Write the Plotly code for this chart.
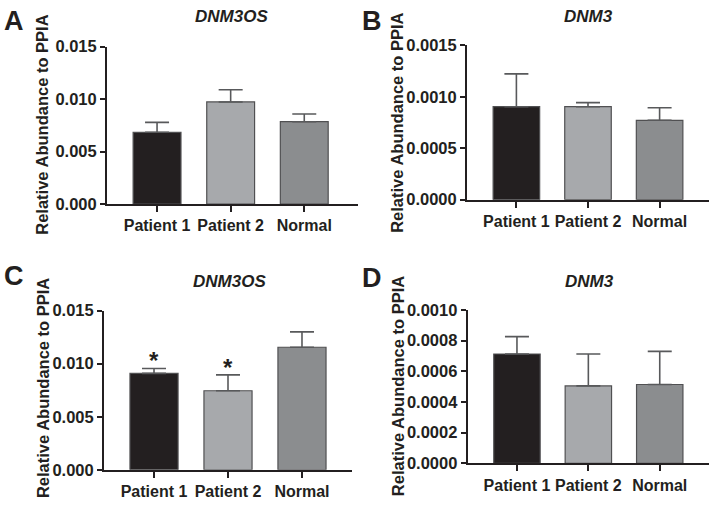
import plotly.graph_objects as go

# ---------------- data ----------------
categories = ["Patient 1", "Patient 2", "Normal"]

a_values = [0.00684, 0.00973, 0.00785]
a_errors = [0.00095, 0.00116, 0.00074]

b_values = [0.000904, 0.000904, 0.000772]
b_errors = [0.000319, 0.000040, 0.000122]

c_values = [0.00909, 0.00745, 0.01155]
c_errors = [0.00046, 0.00150, 0.00145]
c_signif = ["*", "*", ""]

d_values = [0.000713, 0.000505, 0.000514]
d_errors = [0.000113, 0.000208, 0.000216]

panel_titles = ["DNM3OS", "DNM3", "DNM3OS", "DNM3"]
panel_letters = ["A", "B", "C", "D"]
y_title = "Relative Abundance to PPIA"

a_ticks = [0, 0.005, 0.010, 0.015]
b_ticks = [0, 0.0005, 0.0010, 0.0015]
c_ticks = [0, 0.005, 0.010, 0.015]
d_ticks = [0, 0.0002, 0.0004, 0.0006, 0.0008, 0.0010]

bar_colors = ["#231f20", "#a7a9ac", "#8b8d8f"]

# ---------------- layout geometry (pixels) ----------------
W, H = 709, 509
FONT = "Liberation Sans, Arial, sans-serif"
INK = "#231f20"

panels = [
    dict(values=a_values, errors=a_errors, ticks=a_ticks, fmt="{:.3f}",
         xpx=(107, 358), ypx=(39, 202.3), xr=[-0.68, 2.73]),
    dict(values=b_values, errors=b_errors, ticks=b_ticks, fmt="{:.4f}",
         xpx=(467, 709), ypx=(37.7, 197.7), xr=[-0.69, 2.69]),
    dict(values=c_values, errors=c_errors, ticks=c_ticks, fmt="{:.3f}",
         xpx=(104, 352), ypx=(312.7, 477.7), xr=[-0.676, 2.676]),
    dict(values=d_values, errors=d_errors, ticks=d_ticks, fmt="{:.4f}",
         xpx=(467.7, 709), ypx=(312, 471), xr=[-0.69, 2.69]),
]

letter_pos = [(2, 12), (360, 12), (2, 277), (360, 279)]
title_pos = [(231, 8), (588, 8), (229, 282), (589, 282)]
ytitle_pos = [(42, 120), (397, 118), (43, 393), (398, 391)]

fig = go.Figure()
annotations = []

for i, p in enumerate(panels):
    n = "" if i == 0 else str(i + 1)
    xa, ya = "x" + n, "y" + n
    fig.add_trace(go.Bar(
        x=categories, y=p["values"],
        xaxis=xa, yaxis=ya,
        width=0.65,
        marker=dict(color=bar_colors, line=dict(color="#505052", width=1.2)),
        error_y=dict(type="data", symmetric=False, array=p["errors"],
                     arrayminus=[0] * len(p["errors"]),
                     color="#58595b", thickness=1.6, width=12),
        showlegend=False,
    ))
    xdom = [p["xpx"][0] / W, min(p["xpx"][1] / W, 1.0)]
    ydom = [1 - p["ypx"][1] / H, 1 - p["ypx"][0] / H]
    fig.update_layout(**{
        ("xaxis" + n): dict(
            domain=xdom, anchor=ya, range=p["xr"], type="category",
            showline=True, linecolor=INK, linewidth=2,
            ticks="outside", ticklen=6, tickwidth=2, tickcolor=INK,
            tickfont=dict(family=FONT, size=16, color=INK, weight="bold"),
            showgrid=False, zeroline=False, fixedrange=True,
        ),
        ("yaxis" + n): dict(
            domain=ydom, anchor=xa, range=[0, p["ticks"][-1]],
            tickvals=p["ticks"], ticktext=[p["fmt"].format(t) for t in p["ticks"]],
            showline=True, linecolor=INK, linewidth=2,
            ticks="outside", ticklen=5, tickwidth=2, tickcolor=INK,
            tickfont=dict(family=FONT, size=16.5, color=INK, weight="bold"),
            showgrid=False, zeroline=False, fixedrange=True,
        ),
    })
    lx, ly = letter_pos[i]
    annotations.append(dict(text=panel_letters[i], x=lx / W, y=1 - ly / H,
                            xref="paper", yref="paper", xanchor="left", yanchor="middle",
                            showarrow=False,
                            font=dict(family=FONT, size=27, color=INK, weight="bold")))
    tx, ty = title_pos[i]
    annotations.append(dict(text="<i>" + panel_titles[i] + "</i>", x=tx / W, y=1 - ty / H,
                            xref="paper", yref="paper", xanchor="center", yanchor="middle",
                            showarrow=False,
                            font=dict(family=FONT, size=17, color=INK, weight="bold")))
    yx, yy = ytitle_pos[i]
    annotations.append(dict(text=y_title, x=yx / W, y=1 - yy / H, textangle=-90,
                            xref="paper", yref="paper", xanchor="center", yanchor="middle",
                            showarrow=False,
                            font=dict(family=FONT, size=16.5, color=INK, weight="bold")))

# significance stars on panel C
for cat, v, e, s in zip(categories, c_values, c_errors, c_signif):
    if s:
        annotations.append(dict(text=s, x=cat, y=v + e, xref="x3", yref="y3",
                                xanchor="center", yanchor="bottom", yshift=-8,
                                showarrow=False,
                                font=dict(family=FONT, size=24, color=INK, weight="bold")))

fig.update_layout(
    width=W, height=H,
    margin=dict(l=0, r=0, t=0, b=0),
    paper_bgcolor="white", plot_bgcolor="white",
    annotations=annotations,
    bargap=0.35,
)

fig.write_html("out.html", config={"displayModeBar": False},
               post_script="document.body.style.margin='0px';"
                           "document.body.style.overflow='hidden';")
